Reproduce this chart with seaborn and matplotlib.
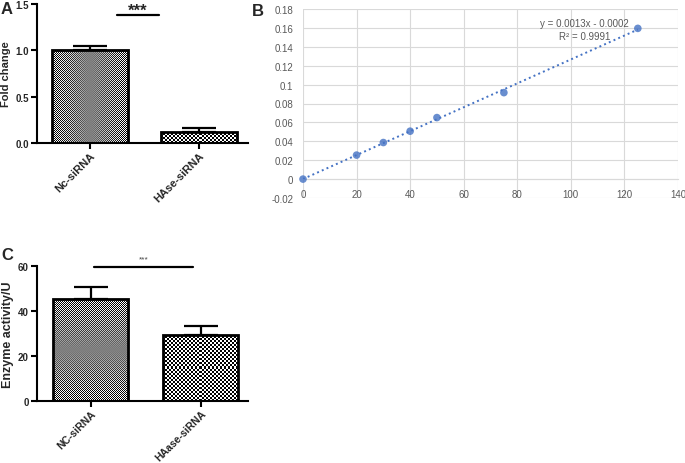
import numpy as np
import pandas as pd
import matplotlib
matplotlib.use('Agg')
import matplotlib.pyplot as plt
import seaborn as sns

# Painel A - fold change (qPCR)
grupos_a = ['Nc-siRNA', 'HAse-siRNA']
fold_change = [1.00, 0.12]
erro_a = [0.05, 0.04]

# Painel B - curva padrão
concentracao = [0, 20, 30, 40, 50, 75, 125]
absorbancia = [0.0, 0.0254, 0.0387, 0.0507, 0.0651, 0.0915, 0.1595]
equacao = 'y = 0.0013x - 0.0002'
r_quadrado = 'R² = 0.9991'

# Painel C - atividade enzimática
grupos_c = ['NC-siRNA', 'HAase-siRNA']
atividade = [45.5, 29.5]
erro_c = [5.0, 4.0]

sns.set_theme(style='ticks')
plt.rcParams['font.family'] = ['Liberation Sans', 'DejaVu Sans']

W, H = 685, 464
fig = plt.figure(figsize=(W / 100, H / 100), dpi=100)


def eixo(x0, y0, x1, y1):
    # converte pixels (topo-esquerda) para coordenadas da figura
    return fig.add_axes([x0 / W, 1 - y1 / H, (x1 - x0) / W, (y1 - y0) / H])


def xadrez(ax, patch, cel, interp):
    # preenche a barra com padrão quadriculado recortado pelo retângulo
    bb = patch.get_bbox()
    (px0, py0), (px1, py1) = ax.transData.transform([[bb.x0, bb.y0], [bb.x1, bb.y1]])
    w = max(int(round((px1 - px0) / cel)), 1)
    h = max(int(round((py1 - py0) / cel)), 1)
    img = np.add.outer(np.arange(h), np.arange(w)) % 2
    im = ax.imshow(img, cmap='gray', vmin=0, vmax=1, extent=(bb.x0, bb.x1, bb.y0, bb.y1),
                   aspect='auto', interpolation=interp, zorder=0.5)
    im.set_clip_path(patch)


def painel_barras(ax, grupos, valores, erros, ylim, yticks, ylabel, xlim, largura, fs_label, fs_xt):
    df = pd.DataFrame({'grupo': grupos, 'valor': valores})
    sns.barplot(data=df, x='grupo', y='valor', ax=ax, width=largura, color='white',
                edgecolor='black', linewidth=2, errorbar=None)
    ax.set_xlim(*xlim)
    ax.set_ylim(*ylim)
    ax.set_yticks(yticks)
    for p in ax.patches:
        p.set_facecolor('none')
        p.set_zorder(2)
    xadrez(ax, ax.patches[0], 1.0, 'antialiased')
    xadrez(ax, ax.patches[1], 2.0, 'nearest')
    ax.set_xlim(*xlim)
    ax.set_ylim(*ylim)
    centros = [p.get_x() + p.get_width() / 2 for p in ax.patches]
    topos = [p.get_height() for p in ax.patches]
    ax.errorbar(centros, topos, yerr=[[0] * len(erros), erros], fmt='none',
                ecolor='black', elinewidth=1.6, capsize=12, capthick=1.6, zorder=1.5)
    sns.despine(ax=ax)
    for s in ['left', 'bottom']:
        ax.spines[s].set_linewidth(1.5)
        ax.spines[s].set_color('black')
    ax.tick_params(axis='both', width=1.5, length=4, color='black', pad=2)
    ax.tick_params(axis='x', pad=1)
    ax.tick_params(axis='y', labelsize=7)
    ax.tick_params(axis='x', labelsize=fs_xt)
    for t in ax.get_yticklabels():
        t.set_fontweight('bold')
    for t in ax.get_xticklabels():
        t.set_fontweight('bold')
        t.set_rotation(45)
        t.set_ha('right')
        t.set_rotation_mode('anchor')
    ax.set_xlabel('')
    ax.set_ylabel(ylabel, fontsize=fs_label, fontweight='bold', labelpad=3)


# ---- A ----
ax_a = eixo(37, 5, 248, 144)
painel_barras(ax_a, grupos_a, fold_change, erro_a, (0, 1.5), [0.0, 0.5, 1.0, 1.5],
              'Fold change', (-0.486, 1.45), 0.7, 8, 8)
ax_a.set_yticklabels(['0.0', '0.5', '1.0', '1.5'], fontweight='bold', fontsize=7)
ax_a.plot([0.25, 0.63], [1.38, 1.38], color='black', lw=1.6, clip_on=False)
ax_a.text(0.44, 1.43, '***', ha='center', va='center', fontsize=12, fontweight='bold')

# ---- C ----
ax_c = eixo(37, 267, 248, 402)
painel_barras(ax_c, grupos_c, atividade, erro_c, (0, 60), [0, 20, 40, 60],
              'Enzyme activity/U', (-0.486, 1.43), 0.68, 9, 7.5)
ax_c.plot([0.03, 0.93], [59.6, 59.6], color='black', lw=1.6, clip_on=False)
ax_c.text(0.48, 61.5, '***', ha='center', va='bottom', fontsize=6, color='#444444')

# ---- B ----
azul = '#4472C4'
cinza = '#595959'
ax_b = eixo(303, 10, 678, 199)
sns.regplot(x=concentracao, y=absorbancia, ax=ax_b, ci=None, color=azul,
            scatter_kws=dict(s=30, zorder=3, clip_on=False, edgecolors='none'),
            line_kws=dict(ls=':', lw=1.4, zorder=2))
ax_b.set_xlim(0, 140)
ax_b.set_ylim(-0.02, 0.18)
ax_b.set_xticks(np.arange(0, 141, 20))
ax_b.set_yticks(np.arange(-0.02, 0.181, 0.02))
ax_b.set_yticklabels([f'{v:g}' for v in np.round(np.arange(-0.02, 0.181, 0.02), 2)])
ax_b.grid(True, color='#D9D9D9', lw=0.8)
ax_b.set_axisbelow(True)
for s in ['top', 'right', 'left']:
    ax_b.spines[s].set_visible(False)
ax_b.spines['bottom'].set_position(('data', 0))
ax_b.spines['bottom'].set_color('#D9D9D9')
ax_b.spines['bottom'].set_linewidth(0.8)
ax_b.tick_params(axis='both', length=0, labelsize=7, labelcolor=cinza)
ax_b.tick_params(axis='x', pad=7)
ax_b.tick_params(axis='y', pad=7)
ax_b.text(105.2, 0.165, equacao, ha='center', va='center', fontsize=7, color=cinza)
ax_b.text(105.2, 0.151, r_quadrado, ha='center', va='center', fontsize=7, color=cinza)

# letras dos painéis
fig.text(1 / W, 1 - 10 / H, 'A', fontsize=12, fontweight='bold', va='center', ha='left')
fig.text(252 / W, 1 - 11 / H, 'B', fontsize=12, fontweight='bold', va='center', ha='left')
fig.text(1 / W, 1 - 256 / H, 'C', fontsize=12, fontweight='bold', va='center', ha='left')

plt.savefig('out.png', dpi=100)
